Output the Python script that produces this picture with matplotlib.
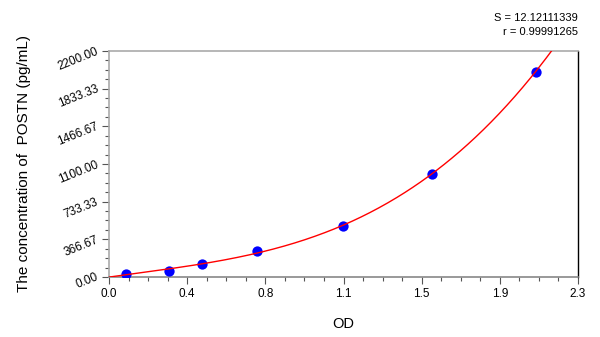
import numpy as np
import matplotlib
matplotlib.use("Agg")
import matplotlib.pyplot as plt
from matplotlib.ticker import FixedLocator, AutoMinorLocator

od = [0.083, 0.294, 0.458, 0.726, 1.149, 1.582, 2.092]
conc = [31.25, 62.5, 125, 250, 500, 1000, 2000]
x_ticks = [0.0, 0.383333, 0.766667, 1.15, 1.533333, 1.916667, 2.3]
x_labels = ["0.0", "0.4", "0.8", "1.1", "1.5", "1.9", "2.3"]
y_ticks = [0.0, 366.67, 733.33, 1100.0, 1466.67, 1833.33, 2200.0]
y_labels = ["0.00", "366.67", "733.33", "1100.00", "1466.67", "1833.33", "2200.00"]
stats = ["S = 12.12111339", "r = 0.99991265"]

plt.rcParams['font.family'] = ['Liberation Sans', 'DejaVu Sans']

fig = plt.figure(figsize=(6, 3.37), dpi=100)
ax = fig.add_axes([109/600, 1-277/337, (578-109)/600, (277-51)/337])

coef = np.polyfit(od, conc, 3)
xc = np.linspace(0, 2.2, 400)
yc = np.polyval(coef, xc)

ax.scatter(od, conc, s=55, color='#0000ff', zorder=3, linewidths=0)
ax.plot(xc, yc, color='#ff0000', lw=1.0, zorder=4, clip_on=True)

ax.set_xlim(0, 2.3)
ax.set_ylim(0, 2200)
ax.xaxis.set_major_locator(FixedLocator(x_ticks))
ax.set_xticklabels(x_labels)
ax.yaxis.set_major_locator(FixedLocator(y_ticks))
ax.set_yticklabels(y_labels, rotation=22, ha='right', va='center', rotation_mode='anchor')
ax.xaxis.set_minor_locator(AutoMinorLocator(4))
ax.yaxis.set_minor_locator(AutoMinorLocator(4))
ax.tick_params(axis='both', which='major', length=5, width=0.8, color='#555555', labelsize=8.5, pad=3)
ax.tick_params(axis='both', which='minor', length=3, width=0.8, color='#555555')

for s in ['top', 'left', 'bottom']:
    ax.spines[s].set_color('#aaaaaa')
    ax.spines[s].set_linewidth(1.2)
ax.spines['right'].set_color('black')
ax.spines['right'].set_linewidth(1.0)
ax.spines['bottom'].set_color('#888888')

ax.set_xlabel("OD", fontsize=10.5, labelpad=12)
ax.set_ylabel("The concentration of  POSTN (pg/mL)", fontsize=11, labelpad=18)

fig.text(578/600, 1-18/337, stats[0], ha='right', va='center', fontsize=8)
fig.text(578/600, 1-32/337, stats[1], ha='right', va='center', fontsize=8)

fig.savefig("out.png", dpi=100)
